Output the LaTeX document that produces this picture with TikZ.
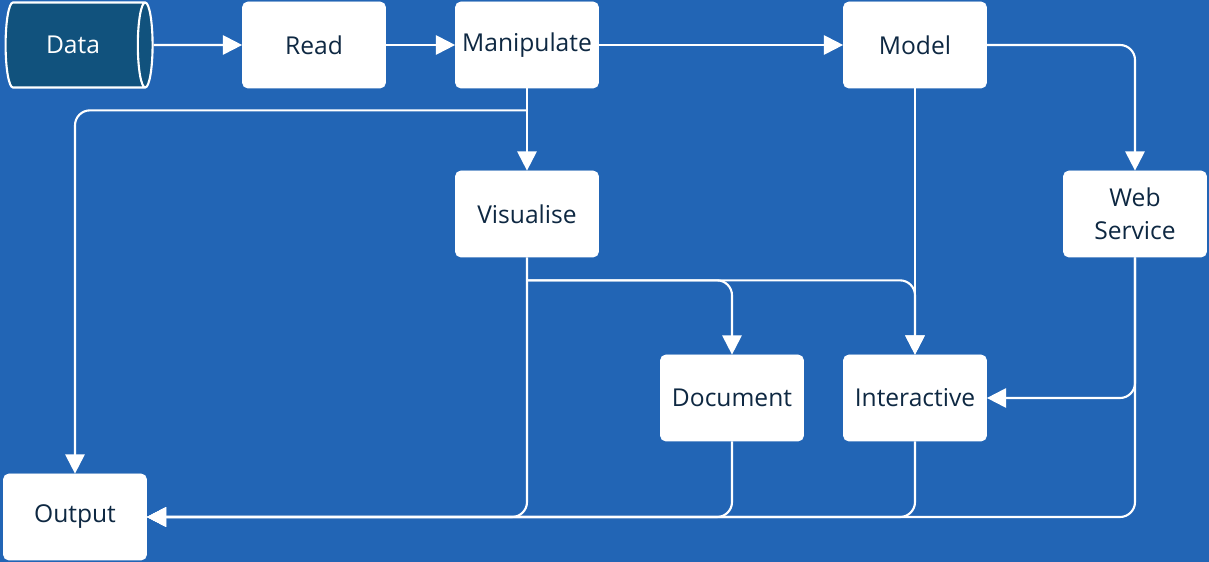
\documentclass[tikz,border=0pt]{standalone}
\usepackage{fontspec}
\setmainfont{Open Sans}
\usetikzlibrary{shapes.geometric, positioning, arrows.meta}
\definecolor{bgblue}{RGB}{34,101,181}
\definecolor{datablue}{RGB}{17,82,125}
\definecolor{inkblue}{RGB}{14,40,66}
\tikzset{
	>={Triangle[length=11pt,width=11pt]},
	node distance=3cm,
	align=center,
	box/.style={draw=white, fill=white, rounded corners=3pt, minimum width=2.86cm,
		minimum height=1.72cm, text=inkblue, font=\fontsize{14}{19}\selectfont},
	store/.style={cylinder, draw=white, fill=datablue, line width=1.2pt, aspect=0.5,
		minimum width=1.7cm, minimum height=2.94cm, text=white, font=\fontsize{14}{19}\selectfont},
	link/.style={->, draw=white, line width=1.2pt, rounded corners=0.3cm}
}
\begin{document}
\begin{tikzpicture}
	\fill[bgblue, use as bounding box] (0,0) rectangle (24.18,-11.24);
	\node[store]                                      (data)  at (1.46,-0.9) {Data};
	\node[box, right of=data,  node distance=4.82cm]  (read)  {Read};
	\node[box, right of=read,  node distance=4.26cm]  (manip) {Manipulate};
	\node[box, right of=manip, node distance=7.76cm]  (model) {Model};
	\node[box, below of=manip, node distance=3.38cm]  (vis)   {Visualise};
	\node[box, right of=vis,   node distance=12.16cm] (web)   {Web\\Service};
	\node[box, below of=model, node distance=7.06cm]  (inter) {Interactive};
	\node[box, left of=inter,  node distance=3.66cm]  (doc)   {Document};
	\node[box, below of=data,  node distance=9.44cm, xshift=0.04cm] (out) {Output};
	\coordinate (manipsplit) at ([yshift=-0.44cm]manip.south);
	\coordinate (vissplit)   at ([yshift=-0.46cm]vis.south);
	\draw[link] (data) -- (read);
	\draw[link] (read) -- (manip);
	\draw[link] (manip) -- (model);
	\draw[link] (model) -| (web);
	\draw[link] (manip) -- (vis);
	\draw[link] (manipsplit) -| (out);
	\draw[link] (vissplit) -| (doc);
	\draw[link] (vissplit) -| (inter);
	\draw[link] (model) -- (inter);
	\draw[link] (web) |- (inter);
	\draw[link] (vis) |- (out);
	\draw[link] (doc) |- (out);
	\draw[link] (inter) |- (out);
	\draw[link] (web) |- (out);
\end{tikzpicture}
\end{document}
